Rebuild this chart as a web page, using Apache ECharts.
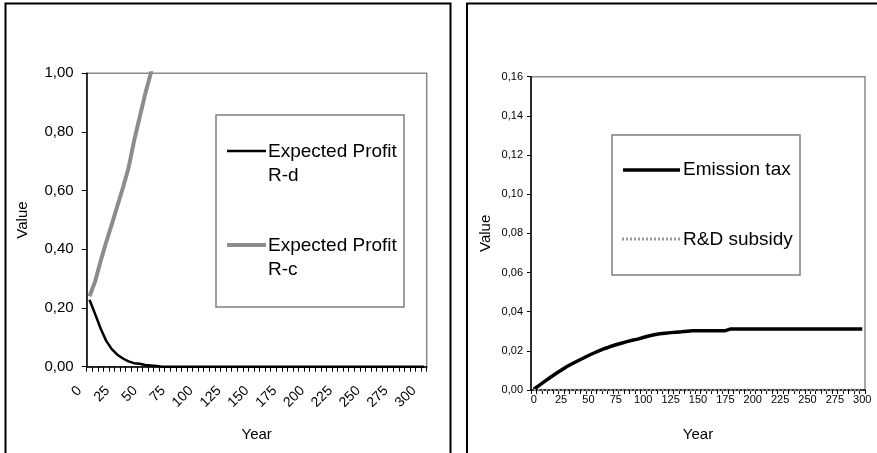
<!DOCTYPE html>
<html>
<head>
<meta charset="utf-8">
<script src="https://cdn.jsdelivr.net/npm/echarts@6/dist/echarts.min.js"></script>
<style>
html,body{margin:0;padding:0;background:#fff;}
#c{width:877px;height:453px;}
</style>
</head>
<body>
<div id="c"></div>
<script>
// Categories (years)
var years = [0,5,10,15,20,25,30,35,40,45,50,55,60,65,70,75,80,85,90,95,100,105,110,115,120,125,130,135,140,145,150,155,160,165,170,175,180,185,190,195,200,205,210,215,220,225,230,235,240,245,250,255,260,265,270,275,280,285,290,295,300];

// Left panel series
var profitRd = [0.228,0.18,0.13,0.088,0.06,0.041,0.028,0.018,0.012,0.010,0.006,0.004,0.002,0,0,0,0,0,0,0,0,0,0,0,0,0,0,0,0,0,0,0,0,0,0,0,0,0,0,0,0,0,0,0,0,0,0,0,0,0,0,0,0,0,0,0,0,0,0,0,0];
var profitRc = [0.24,0.29,0.36,0.425,0.485,0.548,0.61,0.677,0.77,0.85,0.93,1.00,1.08];

// Right panel series
var emissionTax = [0.0004,0.0024,0.0044,0.0064,0.0083,0.0101,0.0119,0.0134,0.0148,0.0162,0.0176,0.0189,0.0201,0.0212,0.0222,0.0231,0.0239,0.0247,0.0254,0.026,0.0268,0.0276,0.0282,0.0287,0.029,0.0293,0.0295,0.0297,0.030,0.0303,0.0303,0.0303,0.0303,0.0303,0.0303,0.0303,0.0312,0.0312,0.0312,0.0312,0.0312,0.0312,0.0312,0.0312,0.0312,0.0312,0.0312,0.0312,0.0312,0.0312,0.0312,0.0312,0.0312,0.0312,0.0312,0.0312,0.0312,0.0312,0.0312,0.0312,0.0312];
var rdSubsidy = [0,0,0,0,0,0,0,0,0,0,0,0,0,0,0,0,0,0,0,0,0,0,0,0,0,0,0,0,0,0,0,0,0,0,0,0,0,0,0,0,0,0,0,0,0,0,0,0,0,0,0,0,0,0,0,0,0,0,0,0,0];

var leftTicks = [0, 0.2, 0.4, 0.6, 0.8, 1.0];
var rightTicks = [0, 0.02, 0.04, 0.06, 0.08, 0.10, 0.12, 0.14, 0.16];

var FONT = '"Liberation Sans", Arial, sans-serif';
function comma(v){ return v.toFixed(2).replace('.', ','); }

var chart = echarts.init(document.getElementById('c'), null, {renderer:'canvas'});
var option = {
  backgroundColor: '#fff',
  animation: false,
  textStyle: {fontFamily: FONT},
  grid: [
    {left: 86.7, top: 73.3, width: 340, height: 293.4, show: true, borderColor: '#8a8a8a', borderWidth: 1.5, backgroundColor: 'transparent'},
    {left: 531, top: 76.7, width: 334, height: 313.3, show: true, borderColor: '#8a8a8a', borderWidth: 1.5, backgroundColor: 'transparent'}
  ],
  xAxis: [
    {
      gridIndex: 0, type: 'category', data: years, boundaryGap: true,
      name: 'Year', nameLocation: 'middle', nameGap: 61,
      nameTextStyle: {fontSize: 15, color: '#000', fontFamily: FONT},
      axisLine: {lineStyle: {color: '#000', width: 1.5}},
      axisTick: {show: true, interval: 0, length: 5, lineStyle: {color: '#000', width: 1}},
      axisLabel: {interval: 4, rotate: 45, fontSize: 14, color: '#000', margin: 12, padding: [0, 14, 0, 0], fontFamily: FONT},
      splitLine: {show: false}
    },
    {
      gridIndex: 1, type: 'category', data: years, boundaryGap: true,
      name: 'Year', nameLocation: 'middle', nameGap: 37,
      nameTextStyle: {fontSize: 15, color: '#000', fontFamily: FONT},
      axisLine: {lineStyle: {color: '#000', width: 1.5}},
      axisTick: {show: true, interval: 0, length: 4, lineStyle: {color: '#000', width: 1}},
      axisLabel: {interval: 4, fontSize: 11, color: '#000', margin: 4, fontFamily: FONT},
      splitLine: {show: false}
    }
  ],
  yAxis: [
    {
      gridIndex: 0, type: 'value', min: leftTicks[0], max: leftTicks[leftTicks.length-1], interval: 0.2,
      name: 'Value', nameLocation: 'middle', nameGap: 56,
      nameTextStyle: {fontSize: 15, color: '#000', fontFamily: FONT},
      axisLine: {show: true, lineStyle: {color: '#000', width: 1.5}},
      axisTick: {show: true, length: 5, lineStyle: {color: '#000'}},
      axisLabel: {fontSize: 15, color: '#000', margin: 13, formatter: comma, fontFamily: FONT},
      splitLine: {show: false}
    },
    {
      gridIndex: 1, type: 'value', min: rightTicks[0], max: rightTicks[rightTicks.length-1], interval: 0.02,
      name: 'Value', nameLocation: 'middle', nameGap: 38,
      nameTextStyle: {fontSize: 15, color: '#000', fontFamily: FONT},
      axisLine: {show: true, lineStyle: {color: '#000', width: 1.5}},
      axisTick: {show: true, length: 4, lineStyle: {color: '#000'}},
      axisLabel: {fontSize: 11, color: '#000', margin: 8, formatter: comma, fontFamily: FONT},
      splitLine: {show: false}
    }
  ],
  series: [
    {name: 'Expected Profit R-d', type: 'line', xAxisIndex: 0, yAxisIndex: 0, data: profitRd, showSymbol: false, symbol: 'none', clip: true, z: 5,
     lineStyle: {color: '#000', width: 2.5}},
    {name: 'Expected Profit R-c', type: 'line', xAxisIndex: 0, yAxisIndex: 0, data: profitRc, showSymbol: false, symbol: 'none', clip: true, z: 4,
     lineStyle: {color: '#8c8c8c', width: 4}},
    {name: 'Emission tax', type: 'line', xAxisIndex: 1, yAxisIndex: 1, data: emissionTax, showSymbol: false, symbol: 'none', z: 5,
     lineStyle: {color: '#000', width: 3.5}},
    {name: 'R&D subsidy', type: 'line', xAxisIndex: 1, yAxisIndex: 1, data: rdSubsidy, showSymbol: false, symbol: 'none', clip: false, z: 6,
     lineStyle: {color: '#9a9a9a', width: 2.5, type: [2, 2]}}
  ],
  graphic: [
    // panel frames
    {type: 'rect', shape: {x: 5.5, y: 3.5, width: 445, height: 470}, style: {fill: 'none', stroke: '#000', lineWidth: 2}, silent: true},
    {type: 'rect', shape: {x: 467, y: 3.5, width: 430, height: 470}, style: {fill: 'none', stroke: '#000', lineWidth: 2}, silent: true},
    // left legend
    {type: 'rect', shape: {x: 216, y: 115, width: 188, height: 192}, style: {fill: '#fff', stroke: '#808080', lineWidth: 1.5}, z: 10},
    {type: 'line', shape: {x1: 227, y1: 151, x2: 266, y2: 151}, style: {stroke: '#000', lineWidth: 2.5}, z: 11},
    {type: 'text', x: 268, y: 140, z: 11, style: {text: 'Expected Profit\nR-d', font: '19px ' + FONT, fill: '#000', lineHeight: 24, verticalAlign: 'top'}},
    {type: 'line', shape: {x1: 227, y1: 245, x2: 266, y2: 245}, style: {stroke: '#8c8c8c', lineWidth: 4}, z: 11},
    {type: 'text', x: 268, y: 234, z: 11, style: {text: 'Expected Profit\nR-c', font: '19px ' + FONT, fill: '#000', lineHeight: 24, verticalAlign: 'top'}},
    // right legend
    {type: 'rect', shape: {x: 612, y: 135, width: 188, height: 140}, style: {fill: '#fff', stroke: '#808080', lineWidth: 1.5}, z: 10},
    {type: 'line', shape: {x1: 623, y1: 170, x2: 680, y2: 170}, style: {stroke: '#000', lineWidth: 3.5}, z: 11},
    {type: 'text', x: 683, y: 160, z: 11, style: {text: 'Emission tax', font: '19px ' + FONT, fill: '#000', verticalAlign: 'top'}},
    {type: 'line', shape: {x1: 622, y1: 239, x2: 680, y2: 239}, style: {stroke: '#9a9a9a', lineWidth: 3, lineDash: [2, 2]}, z: 11},
    {type: 'text', x: 683, y: 230, z: 11, style: {text: 'R&D subsidy', font: '19px ' + FONT, fill: '#000', verticalAlign: 'top'}}
  ]
};
chart.setOption(option);
</script>
</body>
</html>
